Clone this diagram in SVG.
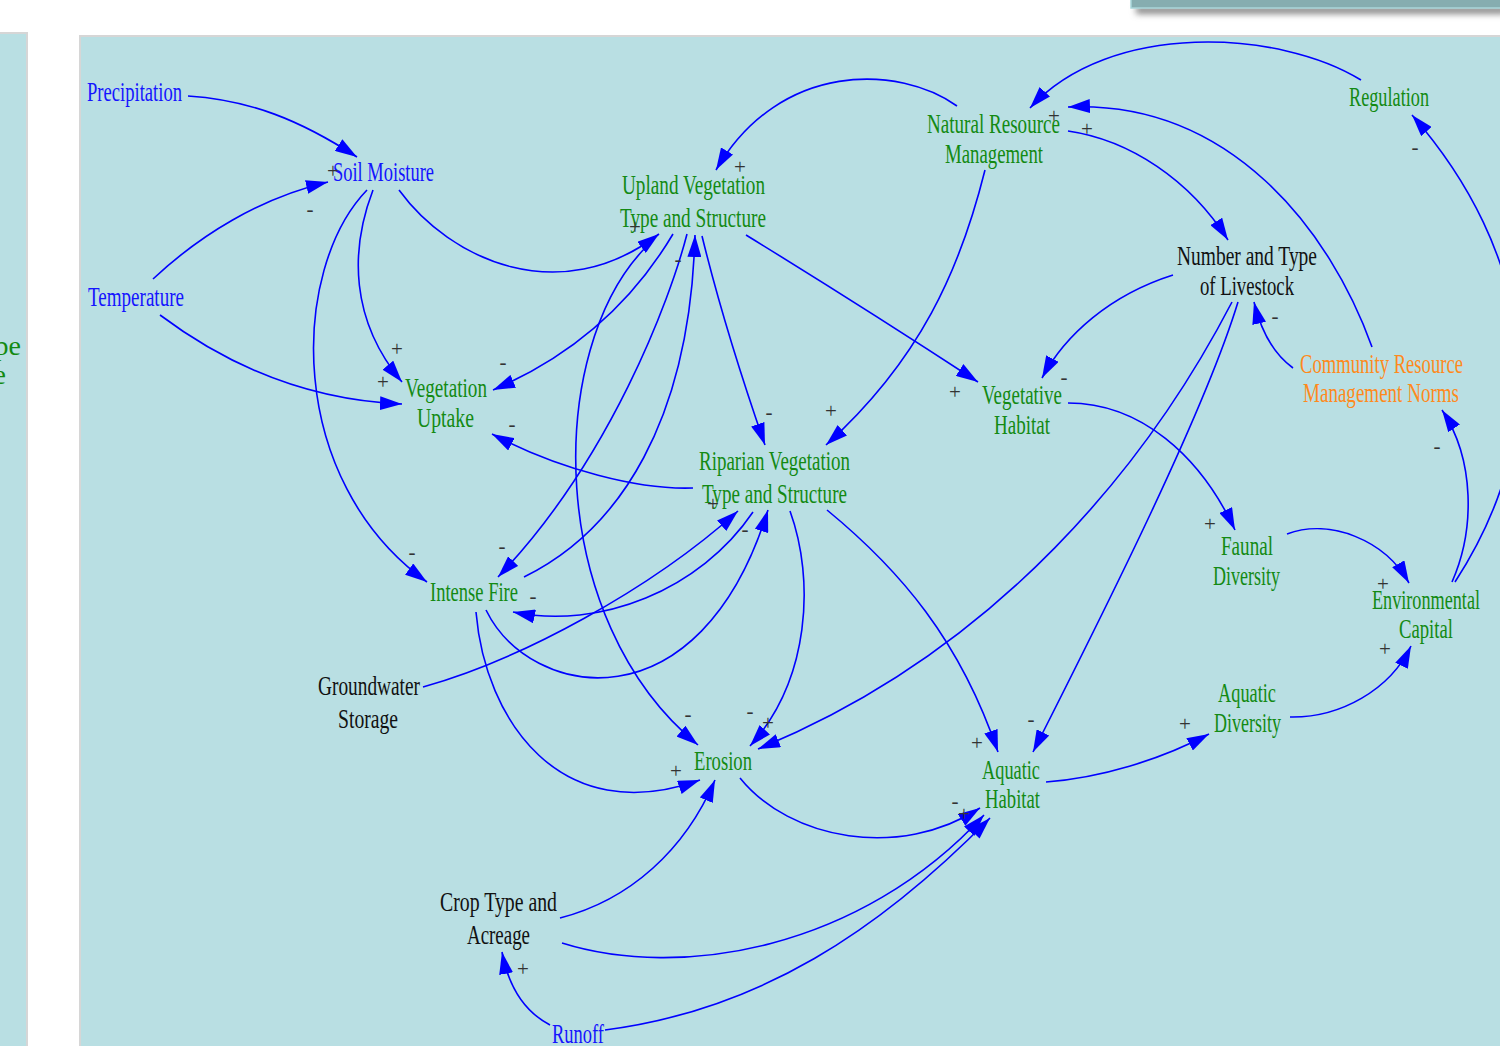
<svg xmlns="http://www.w3.org/2000/svg" width="1500" height="1046" viewBox="0 0 1500 1046">
  <defs>
    <marker id="ah" markerUnits="userSpaceOnUse" markerWidth="22" markerHeight="14" refX="22" refY="7" orient="auto">
      <path d="M0,0 L22,7 L0,14 z" fill="#0000ff"/>
    </marker>
    <filter id="shadow" x="-5%" y="-50%" width="110%" height="300%">
      <feGaussianBlur stdDeviation="3"/>
    </filter>
    <style>
      .panel { fill: #b9dfe3; stroke: #d6d6d6; stroke-width: 2; }
      .t { font-family: "Liberation Serif", "Times New Roman", serif; font-size: 28px; }
      .green { fill: #138a13; }
      .blue { fill: #1414ff; }
      .black { fill: #111111; }
      .orange { fill: #ff8a1c; }
      .sg { font-family: "Liberation Serif", "Times New Roman", serif; font-size: 21px; fill: #333333; text-anchor: middle; }
      .c path { fill: none; stroke: #0000ff; stroke-width: 1.6; marker-end: url(#ah); }
    </style>
  </defs>

  <!-- page background and panels -->
  <rect x="0" y="0" width="1500" height="1046" fill="#ffffff"/>
  <rect x="1136" y="6" width="370" height="8" fill="#8a8a8a" filter="url(#shadow)"/>
  <rect x="1131" y="-4" width="375" height="12" fill="#86adb0" stroke="#a8d6da" stroke-width="1.5"/>
  <rect class="panel" x="-6" y="33" width="33" height="1020"/>
  <rect class="panel" x="80" y="36" width="1430" height="1020"/>

  <!-- clipped label on the neighbouring panel -->
  <text class="t green" x="21" y="355" text-anchor="end">pe</text>
  <text class="t green" x="6" y="384" text-anchor="end">e</text>

  <!-- connectors -->
  <g id="connectors" class="c">
    <path d="M188,96 C 250,100 300,120 357,157"/>
    <path d="M153,279 C 200,235 260,198 328,182"/>
    <path d="M399,190 C 450,260 560,310 659,234"/>
    <path d="M373,190 C 350,250 350,320 402,382"/>
    <path d="M367,190 C 290,270 285,480 427,582"/>
    <path d="M160,315 C 220,360 300,400 402,404"/>
    <path d="M673,234 Q 610,340 493,390"/>
    <path d="M646,247 C 545,350 545,620 698,745"/>
    <path d="M687,234 C 670,300 610,460 498,577"/>
    <path d="M524,577 C 620,530 690,420 695,235"/>
    <path d="M702,236 Q 725,330 765,445"/>
    <path d="M746,235 Q 860,305 978,382"/>
    <path d="M957,106 C 900,65 780,60 716,170"/>
    <path d="M1361,80 C 1280,30 1110,20 1030,108"/>
    <path d="M1372,347 C 1330,230 1230,100 1068,107"/>
    <path d="M1068,131 C 1130,140 1190,180 1228,240"/>
    <path d="M985,170 C 960,270 920,360 826,445"/>
    <path d="M1173,275 C 1110,295 1065,335 1042,378"/>
    <path d="M1232,302 C 1150,460 1000,650 758,749"/>
    <path d="M1238,302 C 1205,410 1110,600 1033,752"/>
    <path d="M1293,368 C 1275,355 1262,335 1254,302"/>
    <path d="M1068,403 C 1140,403 1200,455 1235,530"/>
    <path d="M1287,534 C 1330,518 1385,540 1409,583"/>
    <path d="M1452,582 C 1475,530 1475,460 1442,410"/>
    <path d="M1455,582 C 1560,420 1530,250 1412,115"/>
    <path d="M693,488 C 640,490 560,470 492,434"/>
    <path d="M753,512 C 700,590 600,630 513,612"/>
    <path d="M486,610 C 530,700 700,730 768,510"/>
    <path d="M423,687 C 520,660 650,590 738,511"/>
    <path d="M476,612 C 485,720 560,830 700,780"/>
    <path d="M790,511 C 815,580 810,680 750,746"/>
    <path d="M827,510 C 900,570 960,640 998,752"/>
    <path d="M740,778 C 790,840 900,860 980,808"/>
    <path d="M560,918 C 630,900 685,850 715,780"/>
    <path d="M562,943 C 680,980 860,950 984,815"/>
    <path d="M605,1030 C 760,1010 880,930 990,818"/>
    <path d="M550,1025 Q 512,1005 502,952"/>
    <path d="M1046,782 C 1100,778 1160,760 1209,734"/>
    <path d="M1290,717 C 1340,718 1390,690 1411,646"/>
  </g>

  <!-- nodes -->
  <g id="precipitation"><text class="t blue" x="87" y="101" textLength="95" lengthAdjust="spacingAndGlyphs">Precipitation</text></g>
  <g id="soil-moisture"><text class="t blue" x="333" y="181" textLength="101" lengthAdjust="spacingAndGlyphs">Soil Moisture</text></g>
  <g id="temperature"><text class="t blue" x="88" y="306" textLength="96" lengthAdjust="spacingAndGlyphs">Temperature</text></g>
  <g id="upland-vegetation">
    <text class="t green" x="622" y="194" textLength="143" lengthAdjust="spacingAndGlyphs">Upland Vegetation</text>
    <text class="t green" x="620" y="227" textLength="146" lengthAdjust="spacingAndGlyphs">Type and Structure</text>
  </g>
  <g id="natural-resource-management">
    <text class="t green" x="927" y="133" textLength="133" lengthAdjust="spacingAndGlyphs">Natural Resource</text>
    <text class="t green" x="945" y="163" textLength="98" lengthAdjust="spacingAndGlyphs">Management</text>
  </g>
  <g id="regulation"><text class="t green" x="1349" y="106" textLength="80" lengthAdjust="spacingAndGlyphs">Regulation</text></g>
  <g id="livestock">
    <text class="t black" x="1177" y="265" textLength="140" lengthAdjust="spacingAndGlyphs">Number and Type</text>
    <text class="t black" x="1200" y="295" textLength="94" lengthAdjust="spacingAndGlyphs">of Livestock</text>
  </g>
  <g id="vegetation-uptake">
    <text class="t green" x="405" y="397" textLength="82" lengthAdjust="spacingAndGlyphs">Vegetation</text>
    <text class="t green" x="417" y="427" textLength="57" lengthAdjust="spacingAndGlyphs">Uptake</text>
  </g>
  <g id="vegetative-habitat">
    <text class="t green" x="982" y="404" textLength="80" lengthAdjust="spacingAndGlyphs">Vegetative</text>
    <text class="t green" x="994" y="434" textLength="56" lengthAdjust="spacingAndGlyphs">Habitat</text>
  </g>
  <g id="community-norms">
    <text class="t orange" x="1300" y="373" textLength="163" lengthAdjust="spacingAndGlyphs">Community Resource</text>
    <text class="t orange" x="1303" y="402" textLength="156" lengthAdjust="spacingAndGlyphs">Management Norms</text>
  </g>
  <g id="riparian-vegetation">
    <text class="t green" x="699" y="470" textLength="151" lengthAdjust="spacingAndGlyphs">Riparian Vegetation</text>
    <text class="t green" x="702" y="503" textLength="145" lengthAdjust="spacingAndGlyphs">Type and Structure</text>
  </g>
  <g id="intense-fire"><text class="t green" x="430" y="601" textLength="88" lengthAdjust="spacingAndGlyphs">Intense Fire</text></g>
  <g id="faunal-diversity">
    <text class="t green" x="1221" y="555" textLength="52" lengthAdjust="spacingAndGlyphs">Faunal</text>
    <text class="t green" x="1213" y="585" textLength="67" lengthAdjust="spacingAndGlyphs">Diversity</text>
  </g>
  <g id="environmental-capital">
    <text class="t green" x="1372" y="609" textLength="108" lengthAdjust="spacingAndGlyphs">Environmental</text>
    <text class="t green" x="1399" y="638" textLength="54" lengthAdjust="spacingAndGlyphs">Capital</text>
  </g>
  <g id="groundwater-storage">
    <text class="t black" x="318" y="695" textLength="102" lengthAdjust="spacingAndGlyphs">Groundwater</text>
    <text class="t black" x="338" y="728" textLength="60" lengthAdjust="spacingAndGlyphs">Storage</text>
  </g>
  <g id="erosion"><text class="t green" x="694" y="770" textLength="58" lengthAdjust="spacingAndGlyphs">Erosion</text></g>
  <g id="aquatic-habitat">
    <text class="t green" x="982" y="779" textLength="58" lengthAdjust="spacingAndGlyphs">Aquatic</text>
    <text class="t green" x="985" y="808" textLength="55" lengthAdjust="spacingAndGlyphs">Habitat</text>
  </g>
  <g id="aquatic-diversity">
    <text class="t green" x="1218" y="702" textLength="58" lengthAdjust="spacingAndGlyphs">Aquatic</text>
    <text class="t green" x="1214" y="732" textLength="67" lengthAdjust="spacingAndGlyphs">Diversity</text>
  </g>
  <g id="crop-type">
    <text class="t black" x="440" y="911" textLength="117" lengthAdjust="spacingAndGlyphs">Crop Type and</text>
    <text class="t black" x="467" y="944" textLength="63" lengthAdjust="spacingAndGlyphs">Acreage</text>
  </g>
  <g id="runoff"><text class="t blue" x="552" y="1043" textLength="52" lengthAdjust="spacingAndGlyphs">Runoff</text></g>

  <!-- link polarities -->
  <g id="polarities">
    <text class="sg" x="333" y="178">+</text>
    <text class="sg" x="310" y="216">-</text>
    <text class="sg" x="740" y="174">+</text>
    <text class="sg" x="1054" y="123">+</text>
    <text class="sg" x="1087" y="136">+</text>
    <text class="sg" x="1415" y="154">-</text>
    <text class="sg" x="635" y="234">+</text>
    <text class="sg" x="678" y="266">-</text>
    <text class="sg" x="1275" y="323">-</text>
    <text class="sg" x="397" y="356">+</text>
    <text class="sg" x="383" y="389">+</text>
    <text class="sg" x="503" y="369">-</text>
    <text class="sg" x="512" y="431">-</text>
    <text class="sg" x="955" y="399">+</text>
    <text class="sg" x="1064" y="384">-</text>
    <text class="sg" x="769" y="419">-</text>
    <text class="sg" x="831" y="418">+</text>
    <text class="sg" x="1437" y="453">-</text>
    <text class="sg" x="713" y="511">+</text>
    <text class="sg" x="745" y="536">-</text>
    <text class="sg" x="1210" y="531">+</text>
    <text class="sg" x="412" y="559">-</text>
    <text class="sg" x="502" y="553">-</text>
    <text class="sg" x="533" y="603">-</text>
    <text class="sg" x="1383" y="591">+</text>
    <text class="sg" x="1385" y="656">+</text>
    <text class="sg" x="688" y="721">-</text>
    <text class="sg" x="750" y="718">-</text>
    <text class="sg" x="768" y="730">+</text>
    <text class="sg" x="676" y="778">+</text>
    <text class="sg" x="977" y="750">+</text>
    <text class="sg" x="1031" y="726">-</text>
    <text class="sg" x="1185" y="731">+</text>
    <text class="sg" x="955" y="808">-</text>
    <text class="sg" x="964" y="821">+</text>
    <text class="sg" x="523" y="976">+</text>
  </g>
</svg>
